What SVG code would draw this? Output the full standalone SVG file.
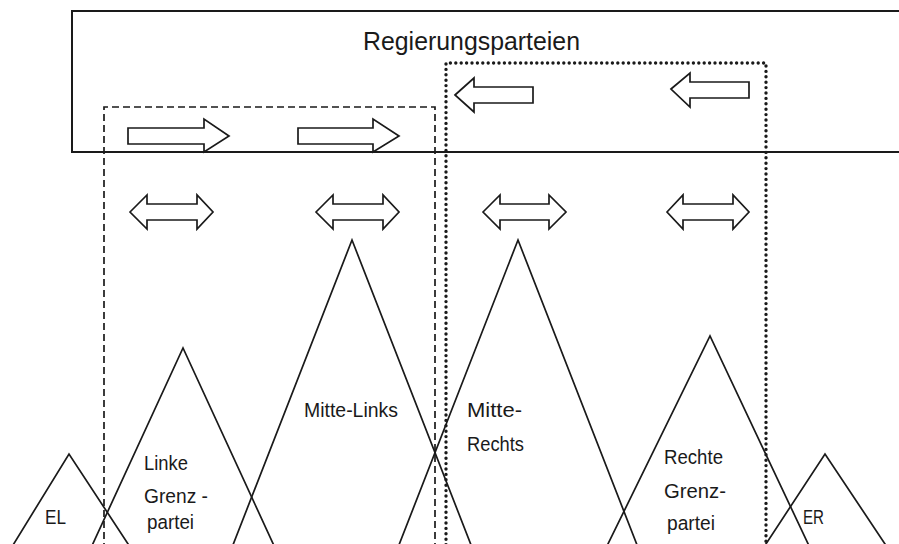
<svg xmlns="http://www.w3.org/2000/svg" width="899" height="544" viewBox="0 0 899 544">
<style>
  .t { font-family: "Liberation Sans", Arial, sans-serif; fill: #1a1a1a; }
  .lbl { font-size: 20.5px; }
  .tri { fill: none; stroke: #1a1a1a; stroke-width: 1.7; stroke-linejoin: miter; }
  .arr { fill: #fff; stroke: #1a1a1a; stroke-width: 1.7; stroke-linejoin: miter; }
  .dash { fill: none; stroke: #1a1a1a; stroke-width: 1.7; stroke-dasharray: 7 4; }
  .dot { fill: none; stroke: #1a1a1a; stroke-width: 3.4; stroke-dasharray: 0 5.4; stroke-linecap: round; }
</style>
<rect width="899" height="544" fill="#fff"/>
<g id="regierung">
  <path d="M905,11 H72 V152 H905" fill="none" stroke="#1a1a1a" stroke-width="2"/>
  <text class="t" x="363" y="50" font-size="25.5" textLength="217" lengthAdjust="spacingAndGlyphs">Regierungsparteien</text>
</g>
<g id="links-block">
  <path class="dash" d="M104,550 V107 H435 V550"/>
</g>
<g id="rechts-block">
  <path class="dot" d="M446,550 V63 H766 V550"/>
</g>
<g id="EL">
  <polyline class="tri" points="10,550 69,454 132,550"/>
  <text class="t lbl" x="45" y="524" textLength="21" lengthAdjust="spacingAndGlyphs">EL</text>
</g>
<g id="linke-grenzpartei">
  <polyline class="tri" points="90,550 183,348 276,550"/>
  <text class="t lbl" x="144" y="470" textLength="44" lengthAdjust="spacingAndGlyphs">Linke</text>
  <text class="t lbl" x="144" y="503" textLength="64" lengthAdjust="spacingAndGlyphs">Grenz -</text>
  <text class="t lbl" x="147" y="529" textLength="47" lengthAdjust="spacingAndGlyphs">partei</text>
</g>
<g id="mitte-links">
  <polyline class="tri" points="231,550 352,240 473,550"/>
  <text class="t lbl" x="304" y="417" textLength="94" lengthAdjust="spacingAndGlyphs">Mitte-Links</text>
</g>
<g id="mitte-rechts">
  <polyline class="tri" points="397,550 518,240 639,550"/>
  <text class="t lbl" x="467" y="417" textLength="55" lengthAdjust="spacingAndGlyphs">Mitte-</text>
  <text class="t lbl" x="467" y="451" textLength="57" lengthAdjust="spacingAndGlyphs">Rechts</text>
</g>
<g id="rechte-grenzpartei">
  <polyline class="tri" points="605,550 710,336 811,550"/>
  <text class="t lbl" x="664" y="464" textLength="59" lengthAdjust="spacingAndGlyphs">Rechte</text>
  <text class="t lbl" x="664" y="498" textLength="62" lengthAdjust="spacingAndGlyphs">Grenz-</text>
  <text class="t lbl" x="667" y="530" textLength="48" lengthAdjust="spacingAndGlyphs">partei</text>
</g>
<g id="ER">
  <polyline class="tri" points="762,550 825,454 889,550"/>
  <text class="t lbl" x="803" y="524" textLength="21" lengthAdjust="spacingAndGlyphs">ER</text>
</g>
<g id="connectors">
  <polygon class="arr" points="128,128 204,128 204,119 229,136 204,152 204,144 128,144"/>
  <polygon class="arr" points="298,128 373,128 373,119 399,136 373,152 373,144 298,144"/>
  <polygon class="arr" points="455,95 474,78 474,87 533,87 533,103 474,103 474,112"/>
  <polygon class="arr" points="671,89 690,73 690,82 749,82 749,98 690,98 690,107"/>
  <polygon class="arr" points="130,212 147,195 147,204 197,204 197,195 213,212 197,229 197,220 147,220 147,229"/>
  <polygon class="arr" points="316,212 333,195 333,204 383,204 383,195 399,212 383,229 383,220 333,220 333,229"/>
  <polygon class="arr" points="483,212 500,195 500,204 549,204 549,195 566,212 549,229 549,220 500,220 500,229"/>
  <polygon class="arr" points="667,212 683,195 683,204 733,204 733,195 749,212 733,229 733,220 683,220 683,229"/>
</g>
</svg>
